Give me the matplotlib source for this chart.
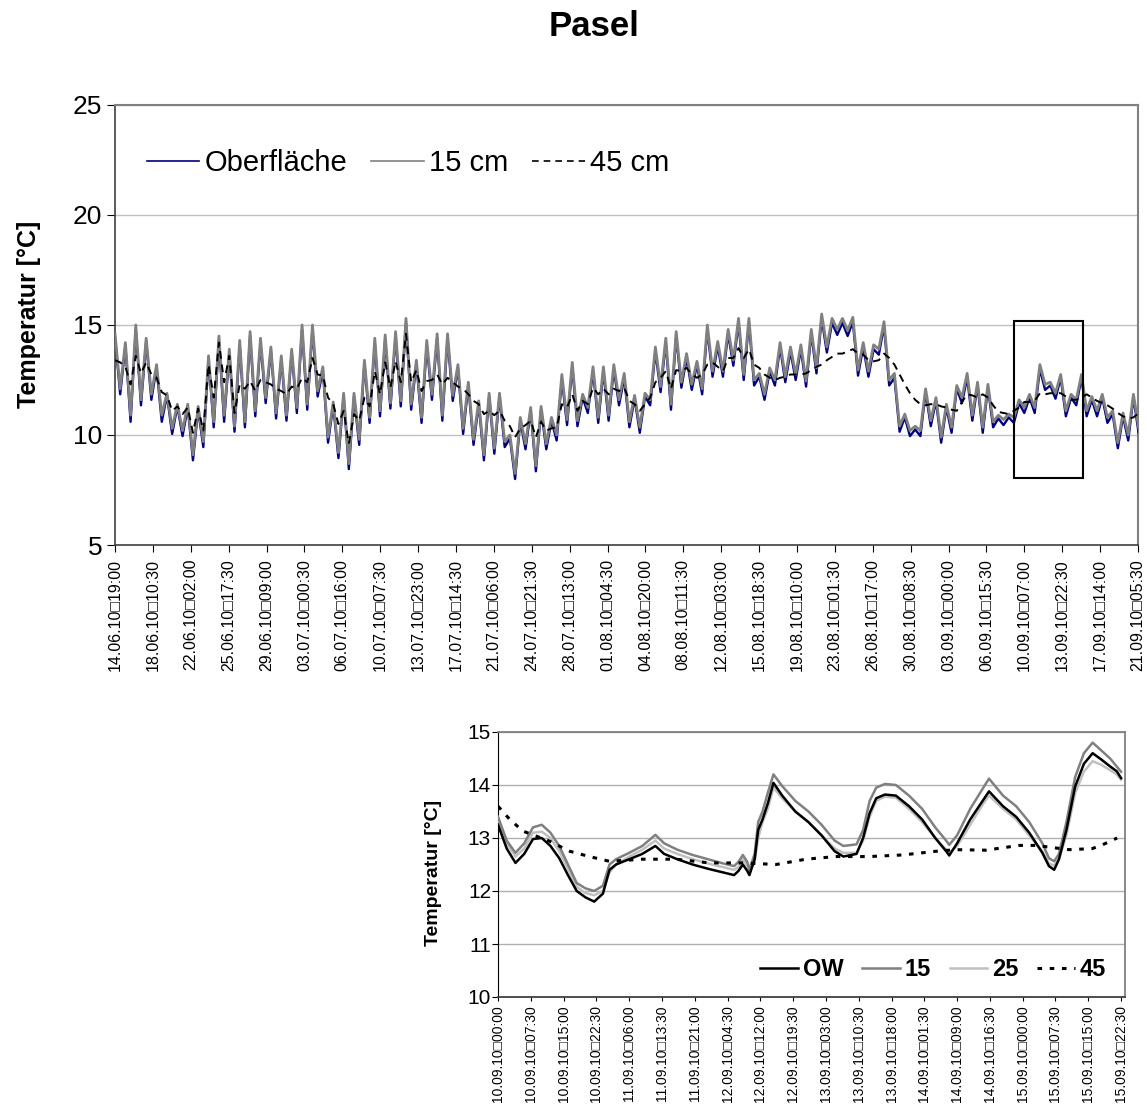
import numpy as np
import matplotlib.pyplot as plt
from matplotlib.patches import Rectangle

plt.rcParams['font.family'] = ['Liberation Sans', 'DejaVu Sans']

# ── Main chart data: 12-hourly samples (daily peak / following trough) ────────
# start 14.06.10 19:00, one peak and one trough per day

ober_peaks = [14.45, 14.05, 14.8, 14.25, 13.05, 11.8, 11.3, 11.25, 11.15, 13.45,
              14.3, 13.75, 14.1, 14.5, 14.2, 13.85, 13.45, 13.75, 14.8, 14.8,
              12.95, 11.35, 11.75, 11.75, 13.25, 14.2, 14.35, 14.5, 15.1, 13.25,
              14.1, 14.4, 14.4, 13.05, 12.25, 11.4, 11.75, 11.75, 9.85, 10.65,
              11.1, 11.15, 10.65, 12.55, 13.1, 11.7, 12.9, 12.9, 13.0, 12.6,
              11.65, 11.75, 13.8, 14.2, 14.5, 13.5, 13.2, 14.8, 14.05, 14.6,
              15.1, 15.1, 12.65, 12.9, 14.0, 13.8, 13.9, 14.6, 15.3, 15.1,
              15.1, 15.15, 14.0, 13.9, 14.95, 12.6, 10.8, 10.25, 11.95, 11.55,
              11.25, 12.1, 12.6, 12.25, 12.15, 10.75, 10.8, 11.45, 11.7, 13.0,
              12.25, 12.6, 11.7, 12.6, 11.6, 11.7, 10.95, 10.85, 11.7]
ober_troughs = [11.85, 10.6, 11.35, 11.6, 10.6, 10.05, 9.95, 8.85, 9.45, 10.35,
                10.6, 10.15, 10.35, 10.85, 11.45, 10.75, 10.65, 11.0, 11.15, 11.75,
                9.65, 8.95, 8.45, 9.55, 10.55, 10.85, 11.2, 11.3, 11.15, 10.55,
                11.6, 10.65, 11.55, 10.05, 9.55, 8.85, 9.15, 9.45, 8.0, 9.35,
                8.35, 9.35, 9.75, 10.45, 10.4, 11.0, 10.55, 10.65, 11.35, 10.35,
                10.1, 11.35, 11.95, 11.15, 12.15, 12.05, 11.85, 12.65, 12.65, 13.15,
                12.5, 12.25, 11.6, 12.25, 12.4, 12.5, 12.2, 12.8, 13.75, 14.55,
                14.5, 12.7, 12.65, 13.65, 12.25, 10.15, 9.95, 9.95, 10.4, 9.65,
                10.1, 11.45, 10.65, 10.1, 10.35, 10.45, 10.55, 11.0, 11.0, 12.05,
                11.65, 10.85, 11.35, 10.85, 10.85, 10.55, 9.4, 9.75, 10.1]

cm15_peaks = [14.6, 14.2, 15.0, 14.4, 13.2, 11.9, 11.4, 11.4, 11.3, 13.6,
              14.5, 13.9, 14.3, 14.7, 14.4, 14.0, 13.6, 13.9, 15.0, 15.0,
              13.1, 11.5, 11.9, 11.9, 13.4, 14.4, 14.55, 14.7, 15.3, 13.4,
              14.3, 14.6, 14.6, 13.2, 12.4, 11.55, 11.9, 11.9, 10.0, 10.8,
              11.25, 11.3, 10.8, 12.75, 13.3, 11.85, 13.1, 13.1, 13.2, 12.8,
              11.8, 11.9, 14.0, 14.4, 14.7, 13.7, 13.35, 15.0, 14.25, 14.8,
              15.3, 15.3, 12.8, 13.05, 14.2, 14.0, 14.1, 14.8, 15.5, 15.3,
              15.3, 15.35, 14.2, 14.1, 15.15, 12.8, 10.95, 10.4, 12.1, 11.7,
              11.4, 12.25, 12.8, 12.4, 12.3, 10.9, 10.95, 11.6, 11.85, 13.2,
              12.4, 12.75, 11.85, 12.75, 11.75, 11.85, 11.1, 11.0, 11.85]
cm15_troughs = [12.1, 10.9, 11.6, 11.85, 10.9, 10.3, 10.2, 9.1, 9.7, 10.6,
                10.9, 10.4, 10.6, 11.1, 11.7, 11.0, 10.9, 11.25, 11.4, 12.0,
                9.9, 9.2, 8.7, 9.8, 10.8, 11.1, 11.45, 11.55, 11.4, 10.8,
                11.85, 10.9, 11.8, 10.3, 9.8, 9.1, 9.4, 9.7, 8.25, 9.6,
                8.6, 9.6, 10.0, 10.7, 10.65, 11.25, 10.8, 10.9, 11.6, 10.6,
                10.35, 11.6, 12.2, 11.4, 12.4, 12.3, 12.1, 12.9, 12.9, 13.4,
                12.75, 12.5, 11.85, 12.5, 12.65, 12.75, 12.45, 13.05, 14.0, 14.8,
                14.75, 12.95, 12.9, 13.9, 12.5, 10.4, 10.2, 10.2, 10.65, 9.9,
                10.35, 11.7, 10.9, 10.35, 10.6, 10.7, 10.8, 11.25, 11.25, 12.3,
                11.9, 11.1, 11.6, 11.1, 11.1, 10.8, 9.65, 10.0, 10.35]

cm45_peaks = [13.4, 13.1, 13.6, 13.3, 12.6, 11.8, 11.3, 11.25, 11.2, 13.2,
              14.2, 13.6, 12.3, 12.45, 12.5, 12.3, 12.0, 12.2, 12.6, 13.5,
              12.7, 11.4, 11.1, 10.95, 11.7, 12.9, 13.3, 13.35, 14.6, 12.95,
              12.45, 12.75, 12.6, 12.2, 11.85, 11.4, 11.1, 11.1, 10.4, 10.3,
              10.65, 10.6, 10.3, 11.4, 11.85, 11.55, 12.15, 12.1, 12.1, 12.15,
              11.4, 11.4, 12.4, 12.9, 12.95, 13.05, 12.6, 13.2, 13.1, 13.5,
              13.95, 13.9, 13.05, 12.6, 12.6, 12.75, 12.75, 12.95, 13.2, 13.55,
              13.7, 13.9, 13.65, 13.35, 13.7, 13.2, 12.3, 11.6, 11.35, 11.4,
              11.25, 11.1, 11.85, 11.7, 11.7, 11.05, 10.95, 11.25, 11.5, 11.9,
              11.9, 11.9, 11.6, 11.7, 11.7, 11.45, 11.2, 10.85, 10.8]
cm45_troughs = [13.3, 12.3, 12.8, 12.75, 11.95, 11.1, 10.95, 10.1, 10.2, 11.7,
                12.4, 11.0, 12.1, 12.0, 12.4, 12.1, 11.85, 12.1, 12.4, 12.75,
                11.7, 10.5, 9.6, 10.65, 11.3, 11.85, 12.15, 12.4, 12.4, 12.0,
                12.5, 12.3, 12.4, 12.1, 11.55, 10.95, 10.9, 10.65, 9.9, 10.45,
                9.9, 10.2, 10.35, 11.25, 11.1, 11.4, 11.85, 11.85, 12.0, 11.55,
                11.1, 11.7, 12.6, 12.1, 12.9, 12.75, 12.75, 13.3, 12.9, 13.5,
                13.5, 13.2, 12.75, 12.5, 12.65, 12.75, 12.8, 13.1, 13.4, 13.7,
                13.8, 13.7, 13.4, 13.4, 13.5, 12.75, 11.9, 11.4, 11.4, 11.3,
                11.15, 11.5, 11.8, 11.85, 11.35, 11.0, 11.1, 11.5, 11.55, 11.85,
                11.9, 11.75, 11.6, 11.85, 11.55, 11.35, 11.0, 10.75, 11.0]

main_labels = ["14.06.10□19:00", "18.06.10□10:30", "22.06.10□02:00", "25.06.10□17:30",
               "29.06.10□09:00", "03.07.10□00:30", "06.07.10□16:00", "10.07.10□07:30",
               "13.07.10□23:00", "17.07.10□14:30", "21.07.10□06:00", "24.07.10□21:30",
               "28.07.10□13:00", "01.08.10□04:30", "04.08.10□20:00", "08.08.10□11:30",
               "12.08.10□03:00", "15.08.10□18:30", "19.08.10□10:00", "23.08.10□01:30",
               "26.08.10□17:00", "30.08.10□08:30", "03.09.10□00:00", "06.09.10□15:30",
               "10.09.10□07:00", "13.09.10□22:30", "17.09.10□14:00", "21.09.10□05:30"]
label_step_days = 87.5 / 24          # 175 half-hour values between labels
main_span_days = 98.44

# hand-drawn box marking the inset period (days, temperature)
box_days = (86.5, 93.1)
box_temps = (8.05, 15.2)

# ── Inset data: 10.09.10 00:00 – 15.09.10 22:30, hours from start ──────────────

ins_hours = [0, 2, 4, 6, 8, 10, 12, 14, 16, 18,
             20, 22, 24, 25.5, 27, 30, 33, 36, 38, 41,
             44.5, 48, 51.5, 54, 55, 56, 57, 57.5, 58.7, 59.5,
             60.5, 61.7, 63, 65, 68, 71, 74, 77, 79, 82,
             83.5, 85, 86.5, 88.5, 91, 94, 97, 100, 102.5, 103.2,
             105, 108, 111, 112.3, 115.5, 118.5, 121.5, 124.5, 126, 127.2,
             128.3, 130, 132, 134, 136, 138, 140, 141.5, 142.5]
ins_ow = [13.25, 12.8, 12.53, 12.7, 12.98, 13.0, 12.85, 12.62, 12.3, 12.0,
          11.88, 11.8, 11.95, 12.4, 12.5, 12.6, 12.7, 12.85, 12.7, 12.6,
          12.5, 12.42, 12.35, 12.3, 12.38, 12.5, 12.38, 12.3, 12.6, 13.15,
          13.35, 13.65, 14.04, 13.8, 13.5, 13.3, 13.05, 12.75, 12.65, 12.7,
          13.0, 13.47, 13.75, 13.82, 13.8, 13.6, 13.35, 13.0, 12.75, 12.67,
          12.9, 13.35, 13.72, 13.88, 13.6, 13.4, 13.1, 12.72, 12.47, 12.4,
          12.6, 13.15, 13.97, 14.4, 14.6, 14.48, 14.35, 14.26, 14.13]
ins_15 = [13.4, 12.95, 12.72, 12.9, 13.2, 13.25, 13.1, 12.85, 12.5, 12.15,
          12.05, 12.0, 12.1, 12.5, 12.6, 12.72, 12.85, 13.06, 12.9, 12.78,
          12.68, 12.6, 12.52, 12.47, 12.55, 12.68, 12.55, 12.4, 12.7, 13.3,
          13.5, 13.85, 14.2, 13.98, 13.7, 13.5, 13.25, 12.95, 12.85, 12.88,
          13.15, 13.7, 13.95, 14.02, 14.0, 13.8, 13.55, 13.2, 12.95, 12.87,
          13.05, 13.55, 13.95, 14.12, 13.8, 13.6, 13.3, 12.9, 12.62, 12.56,
          12.7, 13.3, 14.15, 14.6, 14.8, 14.65, 14.5, 14.35, 14.25]
ins_25 = [13.35, 12.9, 12.65, 12.8, 13.1, 13.12, 13.0, 12.75, 12.42, 12.08,
          11.96, 11.92, 12.0, 12.35, 12.5, 12.65, 12.78, 12.95, 12.8, 12.7,
          12.6, 12.52, 12.45, 12.4, 12.45, 12.6, 12.48, 12.38, 12.55, 13.0,
          13.3, 13.55, 13.95, 13.75, 13.5, 13.3, 13.05, 12.8, 12.72, 12.72,
          12.95, 13.4, 13.7, 13.78, 13.76, 13.55, 13.3, 13.0, 12.78, 12.72,
          12.85, 13.25, 13.65, 13.8, 13.55, 13.35, 13.05, 12.75, 12.52, 12.48,
          12.6, 13.05, 13.85, 14.25, 14.45, 14.38, 14.28, 14.2, 14.1]
ins45_hours = [0, 2.7, 5.7, 11.8, 16.4, 20.9, 25.5, 33.1, 40.7, 48.4, 56, 63.6, 70.4,
               77.3, 84.9, 92.5, 100.2, 104.7, 111.6, 119.2, 123, 130.6, 135.9, 138.2, 141.6]
ins_45 = [13.6, 13.35, 13.13, 12.94, 12.75, 12.65, 12.56, 12.6, 12.6, 12.53, 12.53, 12.5, 12.6,
          12.65, 12.65, 12.68, 12.75, 12.78, 12.77, 12.86, 12.86, 12.78, 12.8, 12.87, 13.0]

ins_labels = ["10.09.10□00:00", "10.09.10□07:30", "10.09.10□15:00", "10.09.10□22:30",
              "11.09.10□06:00", "11.09.10□13:30", "11.09.10□21:00", "12.09.10□04:30",
              "12.09.10□12:00", "12.09.10□19:30", "13.09.10□03:00", "13.09.10□10:30",
              "13.09.10□18:00", "14.09.10□01:30", "14.09.10□09:00", "14.09.10□16:30",
              "15.09.10□00:00", "15.09.10□07:30", "15.09.10□15:00", "15.09.10□22:30"]
ins_label_step = 7.5   # hours

# ── Figure ────────────────────────────────────────────────────────────────────

GRID = "#c0c0c0"
FRAME = "#808080"

fig = plt.figure(figsize=(11.47, 11.15), dpi=100)
fig.text(0.518, 1 - 27 / 1115, "Pasel", ha="center", va="center",
         fontsize=25, fontweight="bold")

# main chart
ax = fig.add_axes([115 / 1147, 1 - 545 / 1115, 1023 / 1147, 440 / 1115])


def interleave(peaks, troughs):
    return np.column_stack([peaks, troughs]).ravel()


ober = interleave(ober_peaks, ober_troughs)
cm15 = interleave(cm15_peaks, cm15_troughs)
cm45 = interleave(cm45_peaks, cm45_troughs)
t = np.arange(len(ober)) * 0.5

ax.plot(t, ober, color="#000080", lw=1.7, label="Oberfläche", zorder=3)
ax.plot(t, cm15, color="#808080", lw=2.0, label="15 cm", zorder=4)
ax.plot(t, cm45, color="black", lw=1.4, dashes=(4, 3), label="45 cm", zorder=5)

ax.add_patch(Rectangle((box_days[0], box_temps[0]), box_days[1] - box_days[0],
                       box_temps[1] - box_temps[0], fill=False, ec="black",
                       lw=1.5, zorder=6))

ax.set_xlim(0, main_span_days)
ax.set_ylim(5, 25)
ax.set_yticks([5, 10, 15, 20, 25])
ax.yaxis.grid(True, color=GRID, lw=1)
ax.set_axisbelow(True)
ax.set_xticks(np.arange(len(main_labels)) * label_step_days)
ax.set_xticklabels(main_labels, rotation=90, fontsize=11.5)
ax.tick_params(axis="y", labelsize=19, length=6, direction="out", pad=3)
ax.tick_params(axis="x", length=5, direction="out", pad=5)
for s in ("top", "right"):
    ax.spines[s].set_color(FRAME)
    ax.spines[s].set_linewidth(1.5)
for s in ("left", "bottom"):
    ax.spines[s].set_color("#404040")
    ax.spines[s].set_linewidth(1.2)
ax.set_ylabel("Temperatur [°C]", fontsize=18, fontweight="bold")
ax.yaxis.set_label_coords(-0.072, 0.525)

leg = ax.legend(loc="center left", bbox_to_anchor=(0.031, 0.868), ncol=3, frameon=False,
                fontsize=21, handlelength=1.8, handletextpad=0.2, columnspacing=0.8,
                borderpad=0, borderaxespad=0)
for line in leg.get_lines():
    line.set_linewidth(1.2)

# inset chart
ax2 = fig.add_axes([498 / 1147, 1 - 997 / 1115, 627 / 1147, 265 / 1115])
ax2.plot(ins_hours, ins_25, color="#c0c0c0", lw=1.8, label="25", zorder=3)
ax2.plot(ins_hours, ins_15, color="#808080", lw=1.8, label="15", zorder=4)
ax2.plot(ins_hours, ins_ow, color="black", lw=1.8, label="OW", zorder=5)
ax2.plot(ins45_hours, ins_45, color="black", lw=2.2, dashes=(1.5, 2.5), label="45", zorder=6)

ax2.set_xlim(0, 143.4)
ax2.set_ylim(10, 15)
ax2.set_yticks([10, 11, 12, 13, 14, 15])
ax2.yaxis.grid(True, color="#b0b0b0", lw=1)
ax2.set_axisbelow(True)
ax2.set_xticks(np.arange(len(ins_labels)) * ins_label_step)
ax2.set_xticklabels(ins_labels, rotation=90, fontsize=10)
ax2.tick_params(axis="y", labelsize=15, length=4, direction="out", pad=1)
ax2.tick_params(axis="x", length=3, direction="out", pad=3)
for s in ("top", "right"):
    ax2.spines[s].set_color(FRAME)
    ax2.spines[s].set_linewidth(1.3)
ax2.spines["left"].set_color("black")
ax2.spines["bottom"].set_color("#404040")
ax2.spines["bottom"].set_linewidth(1.3)
ax2.set_ylabel("Temperatur [°C]", fontsize=14, fontweight="bold")
ax2.yaxis.set_label_coords(-0.09, 0.468)

h, l = ax2.get_legend_handles_labels()
order = [2, 1, 0, 3]
leg2 = ax2.legend([h[i] for i in order], [l[i] for i in order], loc="center right",
                  bbox_to_anchor=(0.97, 0.102), ncol=4, frameon=False,
                  prop={"size": 17, "weight": "bold"}, handlelength=1.6,
                  handletextpad=0.2, columnspacing=0.8, borderpad=0, borderaxespad=0)

fig.savefig("out.png", dpi=100)
